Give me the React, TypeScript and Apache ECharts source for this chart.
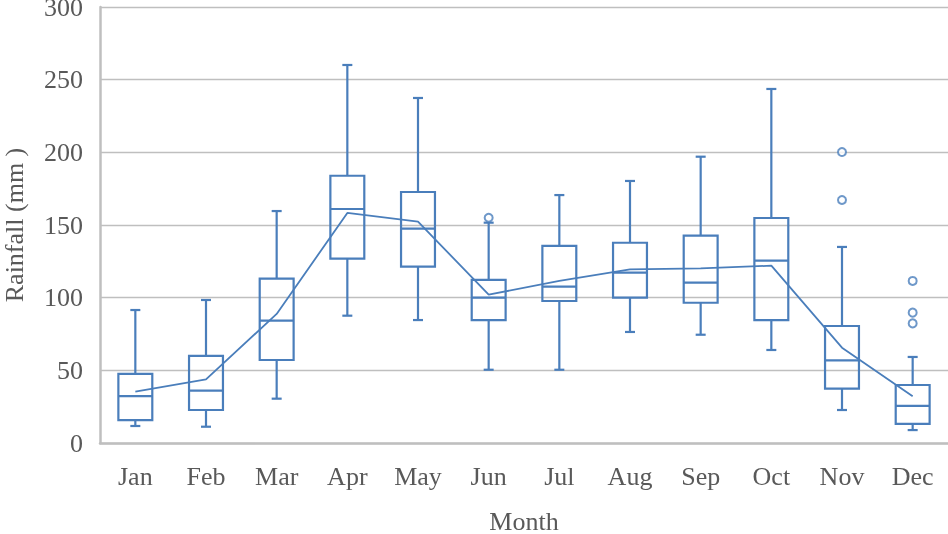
import React, { useEffect, useRef } from "react";
import * as echarts from "echarts";

const months = ["Jan", "Feb", "Mar", "Apr", "May", "Jun", "Jul", "Aug", "Sep", "Oct", "Nov", "Dec"];
const whiskerLow = [11.7, 11.2, 30.5, 87.6, 84.6, 50.4, 50.4, 76.4, 74.5, 64.0, 22.7, 8.9];
const q1 = [15.8, 22.7, 57.1, 126.8, 121.3, 84.6, 97.7, 100.0, 96.5, 84.6, 37.4, 13.1];
const median = [32.3, 36.0, 84.2, 161.0, 147.5, 100.0, 107.6, 117.2, 110.3, 125.5, 56.9, 25.5];
const q3 = [47.5, 59.9, 113.1, 183.9, 172.7, 112.2, 135.6, 137.8, 142.7, 154.8, 80.5, 39.9];
const whiskerHigh = [91.5, 98.4, 159.6, 260.1, 237.4, 151.6, 170.6, 180.3, 197.0, 243.6, 134.9, 59.2];
const mean = [35.3, 43.8, 88.8, 158.3, 152.3, 102.1, 111.5, 119.5, 120.2, 122.0, 65.6, 32.1];
const outlierMonths = ["Jun", "Nov", "Nov", "Dec", "Dec", "Dec"];
const outlierValues = [155.0, 200.2, 167.2, 111.5, 89.7, 82.3];
const yTicks = { min: 0, max: 300, interval: 50 };

const BLUE = "#4a7ebb";
const GRAY = "#bfbfbf";
const TEXT = "#595959";
const FONT = '"Liberation Serif", "Times New Roman", serif';

export default function App() {
  const ref = useRef<HTMLDivElement>(null);
  useEffect(() => {
    if (!ref.current) return;
    const chart = echarts.init(ref.current, undefined, { renderer: "svg" });
    const boxData = months.map((_, i) => [i, whiskerLow[i], q1[i], median[i], q3[i], whiskerHigh[i]]);
    chart.setOption({
      animation: false,
      grid: { left: 100, right: 0, top: 7, bottom: 91, containLabel: false, outerBoundsMode: "none" },
      xAxis: {
        type: "category",
        data: months,
        boundaryGap: true,
        name: "Month",
        nameLocation: "middle",
        nameGap: 67,
        nameTextStyle: { color: TEXT, fontFamily: FONT, fontSize: 26, lineHeight: 22 },
        axisLine: { show: true, lineStyle: { color: GRAY, width: 2.5 } },
        axisTick: { show: false },
        splitLine: { show: false },
        axisLabel: { color: TEXT, fontFamily: FONT, fontSize: 26, margin: 20 },
      },
      yAxis: {
        type: "value",
        min: yTicks.min,
        max: yTicks.max,
        interval: yTicks.interval,
        name: "Rainfall (mm )",
        nameLocation: "middle",
        nameGap: 74,
        nameTextStyle: { color: TEXT, fontFamily: FONT, fontSize: 26, lineHeight: 24 },
        axisLine: { show: true, lineStyle: { color: GRAY, width: 2.5 } },
        axisTick: { show: false },
        splitLine: { show: true, lineStyle: { color: GRAY, width: 1.3 } },
        axisLabel: { color: TEXT, fontFamily: FONT, fontSize: 26, margin: 17, lineHeight: 20 },
      },
      series: [
        {
          type: "custom",
          data: boxData,
          encode: { x: 0, y: [1, 2, 3, 4, 5] },
          renderItem: (params: any, api: any) => {
            const x = api.value(0);
            const lo = api.coord([x, api.value(1)]);
            const b1 = api.coord([x, api.value(2)]);
            const md = api.coord([x, api.value(3)]);
            const b3 = api.coord([x, api.value(4)]);
            const hi = api.coord([x, api.value(5)]);
            const bw = api.size([1, 0])[0] * 0.48;
            const cx = lo[0];
            const cap = 5;
            const style = { stroke: BLUE, lineWidth: 2.2, fill: "none" };
            return {
              type: "group",
              children: [
                { type: "line", shape: { x1: cx, y1: hi[1], x2: cx, y2: b3[1] }, style },
                { type: "line", shape: { x1: cx, y1: b1[1], x2: cx, y2: lo[1] }, style },
                { type: "line", shape: { x1: cx - cap, y1: hi[1], x2: cx + cap, y2: hi[1] }, style },
                { type: "line", shape: { x1: cx - cap, y1: lo[1], x2: cx + cap, y2: lo[1] }, style },
                { type: "rect", shape: { x: cx - bw / 2, y: b3[1], width: bw, height: b1[1] - b3[1] }, style },
                { type: "line", shape: { x1: cx - bw / 2, y1: md[1], x2: cx + bw / 2, y2: md[1] }, style },
              ],
            };
          },
          z: 2,
        },
        {
          type: "line",
          data: mean,
          symbol: "none",
          lineStyle: { color: BLUE, width: 1.8 },
          z: 3,
        },
        {
          type: "scatter",
          data: outlierMonths.map((m, i) => [m, outlierValues[i]]),
          symbol: "circle",
          symbolSize: 8,
          itemStyle: { color: "#ffffff", borderColor: BLUE, borderWidth: 2 },
          z: 4,
        },
      ],
    });
    return () => chart.dispose();
  }, []);
  return <div ref={ref} style={{ position: "fixed", left: 0, top: 0, width: 948, height: 534 }} />;
}
